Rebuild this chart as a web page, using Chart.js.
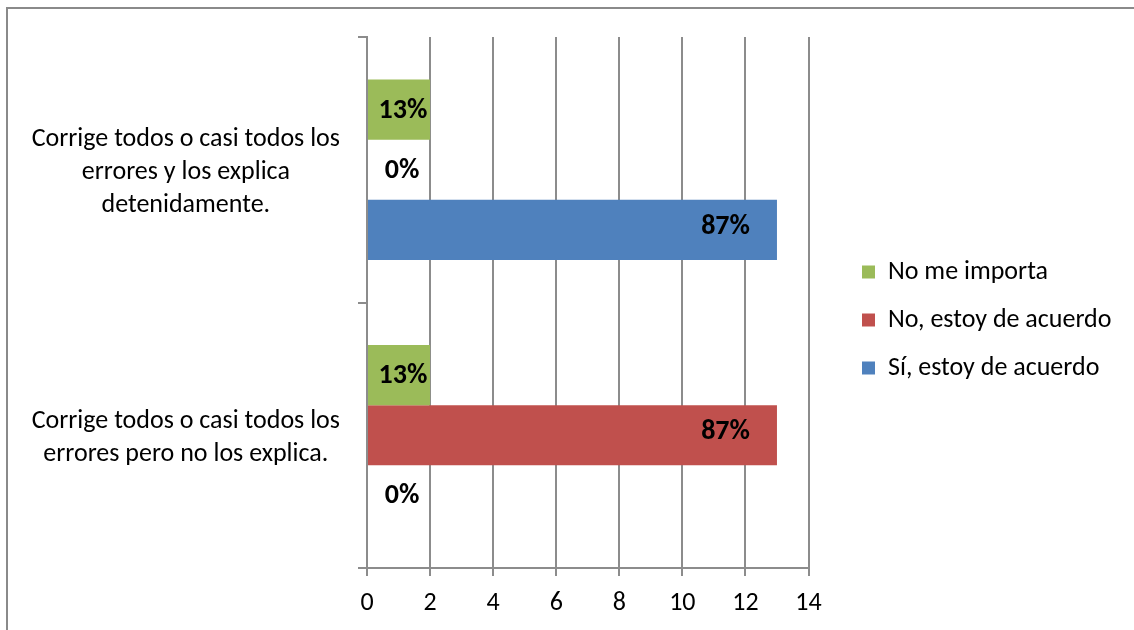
<!DOCTYPE html>
<html>
<head>
<meta charset="utf-8">
<script src="https://cdn.jsdelivr.net/npm/chart.js@4/dist/chart.umd.min.js"></script>
<style>
  html, body { margin: 0; padding: 0; background: #ffffff; overflow: hidden; }
  #c { display: block; }
</style>
</head>
<body>
<canvas id="c" width="1134" height="630"></canvas>
<script>
// ---- data ----
const categories = [
  ["Corrige todos o casi todos los", "errores y los explica", "detenidamente."],
  ["Corrige todos o casi todos los", "errores pero no los explica."]
];
const seriesNames = ["No me importa", "No, estoy de acuerdo", "Sí, estoy de acuerdo"];
const noMeImporta = [2, 2];
const noDeAcuerdo = [0, 13];
const siDeAcuerdo = [13, 0];
const noMeImportaPct = ["13%", "13%"];
const noDeAcuerdoPct = ["0%", "87%"];
const siDeAcuerdoPct = ["87%", "0%"];
const xTicks = [0, 2, 4, 6, 8, 10, 12, 14];

const FONT = "Carlito, Lato, 'Liberation Sans', sans-serif";
const GRID = '#8c8c8c';
const FS = 26;
const LABEL_FS = 28;

const pctLabels = [noMeImportaPct, noDeAcuerdoPct, siDeAcuerdoPct];

const borderPlugin = {
  id: 'outerBorder',
  beforeDraw(chart) {
    const ctx = chart.ctx;
    ctx.save();
    ctx.fillStyle = '#ffffff';
    ctx.fillRect(0, 0, chart.width, chart.height);
    ctx.strokeStyle = '#8a8a8a';
    ctx.lineWidth = 2;
    ctx.strokeRect(7, 8, 1200, 700);
    ctx.restore();
  }
};

const legendPlace = {
  id: 'legendPlace',
  afterLayout(chart) {
    const lg = chart.legend;
    const pad = lg.options.labels.padding;
    lg.left = 862 - pad;
    lg.right = chart.width;
    lg.top = 259 - pad;
    lg.bottom = chart.height;
  }
};

const dataLabels = {
  id: 'dataLabels',
  afterDatasetsDraw(chart) {
    const ctx = chart.ctx;
    ctx.save();
    ctx.font = "bold " + LABEL_FS + "px " + FONT;
    ctx.fillStyle = '#000000';
    ctx.textBaseline = 'middle';
    chart.data.datasets.forEach((ds, di) => {
      const meta = chart.getDatasetMeta(di);
      meta.data.forEach((bar, i) => {
        const txt = pctLabels[di][i];
        const len = bar.x - bar.base;
        if (len > 100) {
          ctx.textAlign = 'right';
          ctx.fillText(txt, bar.x - 27, bar.y - 3);
        } else {
          ctx.textAlign = 'center';
          ctx.fillText(txt, bar.base + 35, bar.y + 1);
        }
      });
    });
    ctx.restore();
  }
};

new Chart(document.getElementById('c'), {
  type: 'bar',
  data: {
    labels: categories,
    datasets: [
      { label: seriesNames[0], data: noMeImporta, backgroundColor: '#9BBB59' },
      { label: seriesNames[1], data: noDeAcuerdo, backgroundColor: '#C0504D' },
      { label: seriesNames[2], data: siDeAcuerdo, backgroundColor: '#4F81BD' }
    ]
  },
  options: {
    responsive: false,
    animation: false,
    devicePixelRatio: 1,
    indexAxis: 'y',
    datasets: { bar: { barPercentage: 1.0, categoryPercentage: 0.68, borderWidth: 0 } },
    layout: { padding: { top: 37, right: 56, left: 0, bottom: 0 } },
    plugins: {
      tooltip: { enabled: false },
      legend: {
        position: 'right',
        align: 'start',
        labels: {
          boxWidth: 13,
          boxHeight: 13,
          padding: 22,
          color: '#000000',
          font: { family: FONT, size: FS }
        }
      }
    },
    scales: {
      x: {
        type: 'linear',
        min: 0,
        max: 14,
        afterBuildTicks(s) { s.ticks = xTicks.map(v => ({ value: v })); },
        ticks: { color: '#000000', font: { family: FONT, size: FS }, padding: 12 },
        grid: { color: GRID, lineWidth: 2, tickLength: 8, drawOnChartArea: true, drawTicks: true },
        border: { display: true, color: GRID, width: 2 },
        afterFit(s) { s.height = 62; }
      },
      y: {
        type: 'category',
        ticks: { crossAlign: 'center', labelOffset: 3, color: '#000000', font: { family: FONT, size: FS, lineHeight: 1.27 }, padding: 18 },
        grid: { offset: true, drawOnChartArea: false, drawTicks: true, tickLength: 9, color: GRID, lineWidth: 2 },
        border: { display: true, color: GRID, width: 2 },
        afterFit(s) { s.width = 367; s.paddingTop = 0; s.paddingBottom = 0; }
      }
    }
  },
  plugins: [borderPlugin, legendPlace, dataLabels]
});
</script>
</body>
</html>
